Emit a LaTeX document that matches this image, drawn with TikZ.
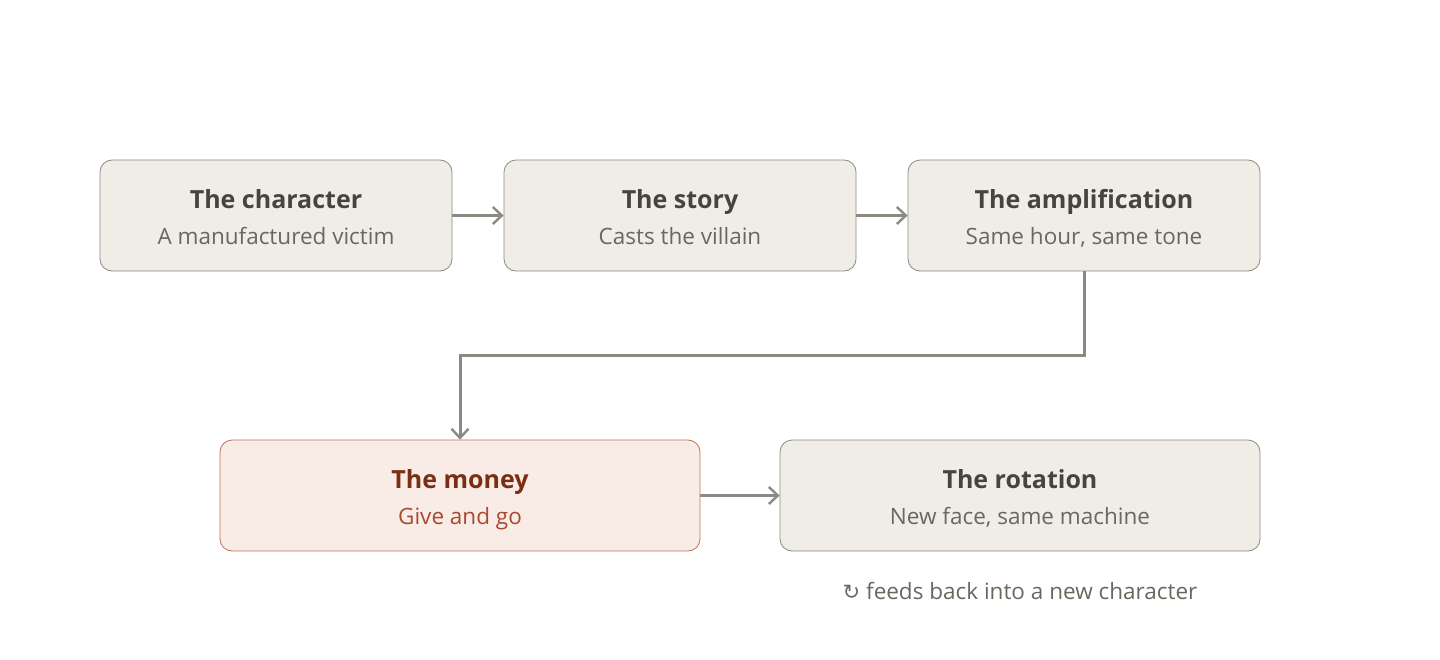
\documentclass[tikz,border=0pt]{standalone}
\usepackage{fontspec}
\setmainfont{Open Sans}
\usetikzlibrary{arrows.meta,positioning}
\definecolor{boxfill}{HTML}{F0EDE7}
\definecolor{boxdraw}{HTML}{8A8A82}
\definecolor{titlec}{HTML}{45453F}
\definecolor{subc}{HTML}{68685F}
\definecolor{monfill}{HTML}{F9ECE7}
\definecolor{mondraw}{HTML}{C0705A}
\definecolor{montitle}{HTML}{7A2E14}
\definecolor{monsub}{HTML}{A84A30}
\definecolor{arrowc}{HTML}{8A8A82}
\tikzset{
  x=1bp, y=-1bp,
  stage/.style={draw=boxdraw, fill=boxfill, line width=0.8bp, rounded corners=12bp,
    minimum height=111bp, inner sep=0pt, align=center},
  moneybox/.style={stage, draw=mondraw, fill=monfill},
  ttl/.style={anchor=base, font=\fontsize{25bp}{30bp}\selectfont\bfseries, text=titlec},
  sub/.style={anchor=base, font=\fontsize{22.5bp}{26bp}\selectfont, text=subc},
  flow/.style={draw=arrowc, line width=3bp, -{Straight Barb[length=9bp,width=17bp,line width=2.4bp]}},
}
\begin{document}
\begin{tikzpicture}
\useasboundingbox (0,0) rectangle (1440,660);
\node[stage, minimum width=352bp] (character) at (276,215.5) {};
\node[stage, minimum width=352bp] (story) at (680,215.5) {};
\node[stage, minimum width=352bp] (amp) at (1084,215.5) {};
\node[moneybox, minimum width=480bp] (money) at (460,495.5) {};
\node[stage, minimum width=480bp] (rotation) at (1020,495.5) {};

\node[ttl] (t1) at (276,208) {The character};
\node[sub] (s1) at (276,244) {A manufactured victim};
\node[ttl] (t2) at (680,208) {The story};
\node[sub] (s2) at (680,244) {Casts the villain};
\node[ttl] (t3) at (1084,208) {The amplification};
\node[sub] (s3) at (1084,244) {Same hour, same tone};
\node[ttl, text=montitle] (t4) at (460,488) {The money};
\node[sub, text=monsub] (s4) at (460,524) {Give and go};
\node[ttl] (t5) at (1020,488) {The rotation};
\node[sub] (s5) at (1020,524) {New face, same machine};
\node[sub] (note) at (1020,599) {{\fontspec{DejaVu Sans}\fontsize{21bp}{24bp}\selectfont ↻} feeds back into a new character};

\draw[flow] (character.east) -- (story.west);
\draw[flow] (story.east) -- (amp.west);
\draw[flow] (amp.south) -- ++(0,84) -| (money.north);
\draw[flow] (money.east) -- (rotation.west);
\end{tikzpicture}
\end{document}
